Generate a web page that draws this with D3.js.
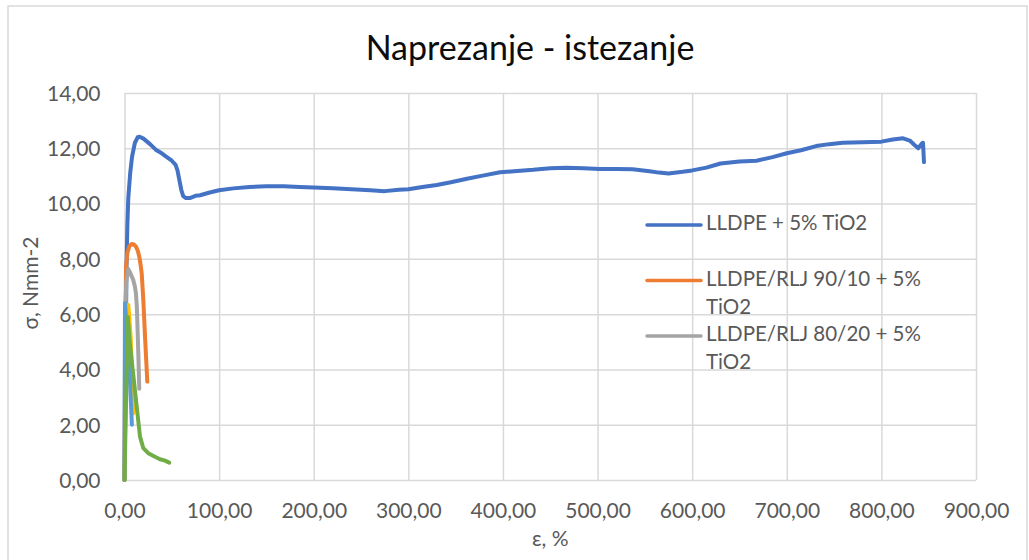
<!DOCTYPE html>
<html>
<head>
<meta charset="utf-8">
<script src="https://cdn.jsdelivr.net/npm/d3@7"></script>
<style>
  body { margin: 0; background: #fff; }
  svg { font-family: Lato, "Open Sans", sans-serif; }
</style>
</head>
<body>
<div id="chart"></div>
<script>
// podaci očitani sa slike (ε %, σ Nmm-2)
const seriesNames = ["LLDPE + 5% TiO2", "LLDPE/RLJ 90/10 + 5% TiO2", "LLDPE/RLJ 80/20 + 5% TiO2", "serija 4", "serija 5", "serija 6"];
const seriesColors = ["#4472C4", "#ED7D31", "#A5A5A5", "#FFC000", "#5B9BD5", "#70AD47"];

const blueEps = [0, 1, 2, 3, 4, 6, 8, 11, 14, 16, 20, 27, 33, 38, 44, 50, 54, 56, 58, 60, 62, 65, 69, 75, 80, 90, 100, 115, 132, 150, 168, 185, 200, 220, 240, 260, 275, 290, 300, 315, 330, 345, 362, 380, 397, 415, 432, 450, 467, 485, 502, 520, 537, 555, 565, 575, 590, 600, 615, 630, 650, 668, 685, 700, 715, 731, 745, 759, 780, 800, 812, 823, 830, 835, 839, 843, 844, 845];
const blueSig = [0, 3, 7.5, 9.2, 10.2, 11.1, 11.7, 12.2, 12.4, 12.42, 12.35, 12.15, 11.95, 11.85, 11.7, 11.55, 11.4, 11.2, 10.85, 10.5, 10.27, 10.2, 10.2, 10.28, 10.3, 10.4, 10.48, 10.55, 10.6, 10.63, 10.63, 10.6, 10.58, 10.55, 10.52, 10.48, 10.45, 10.5, 10.52, 10.6, 10.67, 10.77, 10.9, 11.02, 11.13, 11.18, 11.22, 11.28, 11.3, 11.28, 11.25, 11.25, 11.24, 11.17, 11.12, 11.09, 11.15, 11.2, 11.3, 11.45, 11.52, 11.55, 11.68, 11.82, 11.93, 12.08, 12.15, 12.2, 12.22, 12.24, 12.32, 12.36, 12.28, 12.12, 12.0, 12.18, 12.2, 11.5];

const orangeEps = [0, 0.8, 1.6, 3, 5, 7.6, 10, 12.1, 14, 15.6, 17, 18.2, 19.9, 21.7, 23, 24.1];
const orangeSig = [0, 5, 7.7, 8.2, 8.45, 8.54, 8.52, 8.44, 8.3, 8.08, 7.8, 7.47, 6.51, 5.18, 4.3, 3.56];

const grayEps = [0, 0.5, 1, 2, 4, 6, 9.3, 11, 12.1, 13, 13.5, 14.6, 15.6];
const graySig = [0, 4.5, 6.4, 7.2, 7.63, 7.5, 7.23, 7.0, 6.75, 6.3, 5.79, 4.58, 3.3];

const yellowEps = [0, 1, 2.5, 4, 5, 6.5, 8, 9.3];
const yellowSig = [0, 3.5, 5.8, 6.33, 5.9, 5.18, 3.8, 2.41];

const lightEps = [0, 0.3, 0.5, 1.5, 2.8, 4, 6, 7.8];
const lightSig = [0, 4, 6.39, 5.9, 5.2, 4.58, 3.4, 2.0];

const greenEps = [0, 2, 3.5, 5.5, 8.7, 12.9, 16.4, 19.9, 25.1, 32.2, 37.5, 42.8, 47.3];
const greenSig = [0, 3.5, 5.9, 5.0, 3.98, 2.65, 1.57, 1.15, 0.97, 0.84, 0.75, 0.7, 0.63];

const xTicks = [0, 100, 200, 300, 400, 500, 600, 700, 800, 900];
const yTicks = [0, 2, 4, 6, 8, 10, 12, 14];

const allEps = [blueEps, orangeEps, grayEps, yellowEps, lightEps, greenEps];
const allSig = [blueSig, orangeSig, graySig, yellowSig, lightSig, greenSig];

// dimenzije
const W = 1029, H = 560;
const margin = {top: 93, right: 53, bottom: 80, left: 124.5};
const width = 976 - margin.left;
const height = 480 - margin.top;

const locale = d3.formatLocale({decimal: ",", thousands: ".", grouping: [3], currency: ["", ""]});
const fmt = locale.format(".2f");

const svg = d3.select("#chart").append("svg")
    .attr("width", W)
    .attr("height", H);

// okvir grafikona
svg.append("rect")
    .attr("x", 8).attr("y", 6)
    .attr("width", 1019).attr("height", 570)
    .attr("fill", "#fff")
    .attr("stroke", "#D9D9D9")
    .attr("stroke-width", 1.5);

const g = svg.append("g")
    .attr("transform", `translate(${margin.left},${margin.top})`);

const x = d3.scaleLinear().domain([0, 900]).range([0, width]);
const y = d3.scaleLinear().domain([0, 14]).range([height, 0]);

// y os + horizontalne linije mreže
const yAxis = g.append("g")
    .call(d3.axisLeft(y).tickValues(yTicks).tickSize(-width).tickFormat(fmt));
yAxis.select(".domain").remove();
yAxis.selectAll("line").attr("stroke", "#D9D9D9").attr("stroke-width", 1.5);
yAxis.selectAll("text")
    .attr("x", -24)
    .attr("dy", "0.35em")
    .attr("fill", "#595959")
    .style("font-size", "21px")
    .style("font-family", "Lato, sans-serif");

// x os + vertikalne linije mreže
const xAxis = g.append("g")
    .attr("transform", `translate(0,${height})`)
    .call(d3.axisBottom(x).tickValues(xTicks).tickSize(-height).tickFormat(fmt));
xAxis.select(".domain").remove();
xAxis.selectAll("line").attr("stroke", "#D9D9D9").attr("stroke-width", 1.5);
xAxis.selectAll("text")
    .attr("y", 31)
    .attr("dy", "0.35em")
    .attr("fill", "#595959")
    .style("font-size", "21px")
    .style("font-family", "Lato, sans-serif");

// krivulje
const line = d3.line()
    .x(d => x(d[0]))
    .y(d => y(d[1]));

allEps.forEach((eps, i) => {
    const pts = eps.map((e, k) => [e, allSig[i][k]]);
    g.append("path")
        .datum(pts)
        .attr("fill", "none")
        .attr("stroke", seriesColors[i])
        .attr("stroke-width", 4)
        .attr("stroke-linejoin", "round")
        .attr("stroke-linecap", "round")
        .attr("d", line);
});

// naslov
svg.append("text")
    .attr("x", 530)
    .attr("y", 51)
    .attr("text-anchor", "middle")
    .attr("dominant-baseline", "middle")
    .attr("fill", "#0d0d0d")
    .style("font-size", "34px")
    .text("Naprezanje - istezanje");

// naslovi osi
svg.append("text")
    .attr("transform", "translate(33,283) rotate(-90)")
    .attr("text-anchor", "middle")
    .attr("dominant-baseline", "middle")
    .attr("fill", "#595959")
    .style("font-size", "21px")
    .text("σ, Nmm-2");

svg.append("text")
    .attr("x", margin.left + width / 2)
    .attr("y", 541)
    .attr("text-anchor", "middle")
    .attr("dominant-baseline", "middle")
    .attr("fill", "#595959")
    .style("font-size", "21px")
    .text("ε, %");

// legenda (prikazane samo prve tri serije)
const legendLines = [["LLDPE + 5% TiO2"], ["LLDPE/RLJ 90/10 + 5%", "TiO2"], ["LLDPE/RLJ 80/20 + 5%", "TiO2"]];
const legend = svg.append("g").attr("transform", "translate(647,225)");
legendLines.forEach((lines, i) => {
    const item = legend.append("g").attr("transform", `translate(0,${i * 55.5})`);
    item.append("line")
        .attr("x1", 0).attr("x2", 54)
        .attr("y1", 0).attr("y2", 0)
        .attr("stroke", seriesColors[i])
        .attr("stroke-width", 3.5)
        .attr("stroke-linecap", "round");
    lines.forEach((t, j) => {
        item.append("text")
            .attr("x", 59)
            .attr("y", j * 28)
            .attr("dominant-baseline", "middle")
            .attr("fill", "#595959")
            .style("font-size", "20.5px")
            .text(t);
    });
});
</script>
</body>
</html>
